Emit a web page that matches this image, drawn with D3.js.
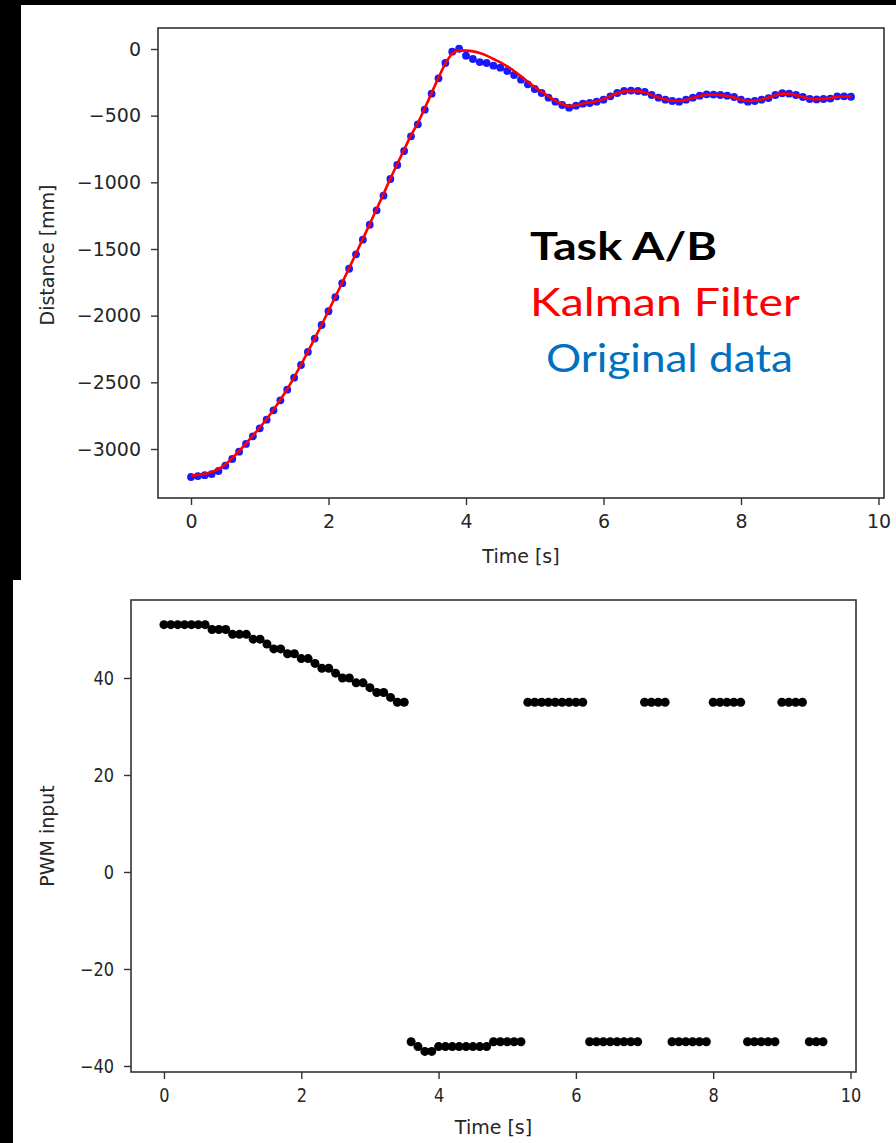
<!DOCTYPE html>
<html>
<head>
<meta charset="utf-8">
<script src="https://cdn.jsdelivr.net/npm/d3@7"></script>
<style>
  html, body { margin: 0; padding: 0; background: #fff; }
  svg { display: block; }
  .tick text { font-family: "DejaVu Sans", sans-serif; fill: #262626; }
  .domain { display: none; }
</style>
</head>
<body>
<svg id="fig" width="896" height="1143"></svg>
<script>
// Sample times [s]
const time = [
  0.0, 0.1, 0.2, 0.3, 0.4, 0.5, 0.6, 0.7, 0.8, 0.9,
  1.0, 1.1, 1.2, 1.3, 1.4, 1.5, 1.6, 1.7, 1.8, 1.9,
  2.0, 2.1, 2.2, 2.3, 2.4, 2.5, 2.6, 2.7, 2.8, 2.9,
  3.0, 3.1, 3.2, 3.3, 3.4, 3.5, 3.6, 3.7, 3.8, 3.9,
  4.0, 4.1, 4.2, 4.3, 4.4, 4.5, 4.6, 4.7, 4.8, 4.9,
  5.0, 5.1, 5.2, 5.3, 5.4, 5.5, 5.6, 5.7, 5.8, 5.9,
  6.0, 6.1, 6.2, 6.3, 6.4, 6.5, 6.6, 6.7, 6.8, 6.9,
  7.0, 7.1, 7.2, 7.3, 7.4, 7.5, 7.6, 7.7, 7.8, 7.9,
  8.0, 8.1, 8.2, 8.3, 8.4, 8.5, 8.6, 8.7, 8.8, 8.9,
  9.0, 9.1, 9.2, 9.3, 9.4, 9.5, 9.6
];

// Measured distance [mm] (original data)
const distanceRaw = [
  -3210, -3203, -3196, -3188, -3165, -3125, -3075, -3020, -2962, -2905,
  -2845, -2780, -2710, -2635, -2555, -2465, -2370, -2272, -2172, -2070,
  -1967, -1862, -1756, -1648, -1540, -1430, -1318, -1210, -1100, -975,
  -870, -765, -655, -565, -455, -335, -220, -105, -20, 2,
  -50, -75, -98, -105, -125, -140, -165, -195, -230, -265,
  -300, -330, -365, -395, -420, -440, -425, -410, -405, -395,
  -380, -355, -330, -315, -312, -315, -322, -345, -365, -380,
  -390, -395, -380, -365, -350, -340, -342, -345, -350, -360,
  -380, -395, -390, -380, -368, -345, -332, -335, -345, -360,
  -375, -378, -375, -372, -355, -355, -358
];

// Kalman filter estimate [mm]
const distanceKalman = [
  -3200, -3195, -3186, -3172, -3150, -3115, -3068, -3015, -2958, -2900,
  -2840, -2775, -2705, -2630, -2550, -2462, -2368, -2270, -2170, -2068,
  -1964, -1858, -1751, -1643, -1534, -1424, -1312, -1200, -1088, -972,
  -862, -755, -648, -555, -445, -330, -215, -110, -35, -10,
  -12, -18, -30, -50, -75, -100, -130, -165, -205, -245,
  -285, -320, -355, -388, -412, -428, -422, -410, -402, -392,
  -376, -354, -332, -318, -314, -316, -325, -345, -364, -378,
  -388, -390, -380, -366, -352, -343, -342, -345, -352, -364,
  -380, -390, -388, -378, -364, -346, -335, -336, -346, -360,
  -372, -376, -374, -368, -358, -356, -357
];

// PWM command
const pwm = [
  51, 51, 51, 51, 51, 51, 51, 50, 50, 50,
  49, 49, 49, 48, 48, 47, 46, 46, 45, 45,
  44, 44, 43, 42, 42, 41, 40, 40, 39, 39,
  38, 37, 37, 36, 35, 35, -35, -36, -37, -37,
  -36, -36, -36, -36, -36, -36, -36, -36, -35, -35,
  -35, -35, -35, 35, 35, 35, 35, 35, 35, 35,
  35, 35, -35, -35, -35, -35, -35, -35, -35, -35,
  35, 35, 35, 35, -35, -35, -35, -35, -35, -35,
  35, 35, 35, 35, 35, -35, -35, -35, -35, -35,
  35, 35, 35, 35, -35, -35, -35
];

// Tick labels
const xTicks = [0, 2, 4, 6, 8, 10];
const distTicks = [0, -500, -1000, -1500, -2000, -2500, -3000];
const pwmTicks = [40, 20, 0, -20, -40];

// Annotation lines
const notes = [
  { text: "Task A/B", color: "#000000", weight: "bold" },
  { text: "Kalman Filter", color: "#ff0000", weight: "normal" },
  { text: "Original data", color: "#0070c0", weight: "normal" }
];

const svg = d3.select("#fig");
svg.append("rect").attr("width", 896).attr("height", 1143).attr("fill", "#fff");

// dark slide edges
svg.append("rect").attr("x", 0).attr("y", 0).attr("width", 896).attr("height", 5).attr("fill", "#000");
svg.append("rect").attr("x", 0).attr("y", 0).attr("width", 21).attr("height", 580).attr("fill", "#000");
svg.append("rect").attr("x", 0).attr("y", 580).attr("width", 13).attr("height", 563).attr("fill", "#000");

const FONT = 19;
const frameColor = "#333";

function drawAxes(g, x, y, yTicks, box, opts) {
  const xAxis = d3.axisBottom(x).tickValues(xTicks).tickSize(7).tickPadding(10)
    .tickFormat(d3.format("d"));
  const yAxis = d3.axisLeft(y).tickValues(yTicks).tickSize(7).tickPadding(10)
    .tickFormat(d3.format("d"));

  const gx = g.append("g").attr("transform", `translate(0,${box.bottom})`).call(xAxis);
  const gy = g.append("g").attr("transform", `translate(${box.left},0)`).call(yAxis);
  [gx, gy].forEach(a => {
    a.selectAll(".tick line").attr("stroke", frameColor).attr("stroke-width", 1.4);
    a.selectAll(".tick text").attr("font-size", FONT);
  });
  if (opts.squeeze) {
    gx.selectAll(".tick text").attr("transform", `scale(${opts.squeeze},1)`);
    gy.selectAll(".tick text").each(function () {
      const t = d3.select(this);
      const x0 = +t.attr("x");
      t.attr("x", x0 / opts.squeeze).attr("transform", `scale(${opts.squeeze},1)`);
    });
  }

  g.append("rect")
    .attr("x", box.left).attr("y", box.top)
    .attr("width", box.right - box.left).attr("height", box.bottom - box.top)
    .attr("fill", "none").attr("stroke", frameColor).attr("stroke-width", 1.6);

  g.append("text")
    .attr("x", (box.left + box.right) / 2)
    .attr("y", opts.xLabelY)
    .attr("text-anchor", "middle")
    .attr("font-family", "DejaVu Sans, sans-serif")
    .attr("font-size", FONT).attr("fill", "#262626")
    .text("Time [s]");

  g.append("text")
    .attr("transform", `translate(${opts.yLabelX},${opts.yLabelCy}) rotate(-90)`)
    .attr("text-anchor", "middle")
    .attr("font-family", "DejaVu Sans, sans-serif")
    .attr("font-size", FONT).attr("fill", "#262626")
    .text(opts.yLabel);
}

// ---------- Distance panel ----------
const box1 = { left: 158, right: 884, top: 28, bottom: 498 };
const x1 = d3.scaleLinear().domain([-0.48, 10.08]).range([box1.left, box1.right]);
const y1 = d3.scaleLinear().domain([-3367.5, 157.5]).range([box1.bottom, box1.top]);
const g1 = svg.append("g");

const raw = time.map((t, i) => ({ t, v: distanceRaw[i] }));
const kal = time.map((t, i) => ({ t, v: distanceKalman[i] }));

g1.append("g").selectAll("circle").data(raw).join("circle")
  .attr("cx", d => x1(d.t)).attr("cy", d => y1(d.v)).attr("r", 3.9)
  .attr("fill", "#0000ff").attr("fill-opacity", 0.9);

g1.append("path").datum(kal)
  .attr("d", d3.line().x(d => x1(d.t)).y(d => y1(d.v)).curve(d3.curveMonotoneX))
  .attr("fill", "none").attr("stroke", "#ff0000").attr("stroke-width", 2.6)
  .attr("stroke-linejoin", "round");

drawAxes(g1, x1, y1, distTicks, box1, {
  xLabelY: 563, yLabel: "Distance [mm]", yLabelX: 54, yLabelCy: 255
});

// annotation block
const noteY = [260, 316, 372];
const noteLen = [187, 270, 247];
const noteX = [530, 530, 546];
svg.append("g").selectAll("text").data(notes).join("text")
  .attr("x", (d, i) => noteX[i]).attr("y", (d, i) => noteY[i])
  .attr("font-family", "Lato, 'Open Sans', sans-serif")
  .attr("font-size", 39)
  .attr("font-weight", d => d.weight)
  .attr("fill", d => d.color)
  .attr("textLength", (d, i) => noteLen[i])
  .attr("lengthAdjust", "spacingAndGlyphs")
  .text(d => d.text);

// ---------- PWM panel ----------
const box2 = { left: 131, right: 856, top: 600, bottom: 1072 };
const x2 = d3.scaleLinear().domain([-0.48, 10.08]).range([box2.left, box2.right]);
const y2 = d3.scaleLinear().domain([-41.24, 56.08]).range([box2.bottom, box2.top]);
const g2 = svg.append("g");

g2.append("g").selectAll("circle").data(time.map((t, i) => ({ t, v: pwm[i] }))).join("circle")
  .attr("cx", d => x2(d.t)).attr("cy", d => y2(d.v)).attr("r", 4.5)
  .attr("fill", "#000");

drawAxes(g2, x2, y2, pwmTicks, box2, {
  xLabelY: 1134, yLabel: "PWM input", yLabelX: 54, yLabelCy: 836, squeeze: 0.85
});
</script>
</body>
</html>
